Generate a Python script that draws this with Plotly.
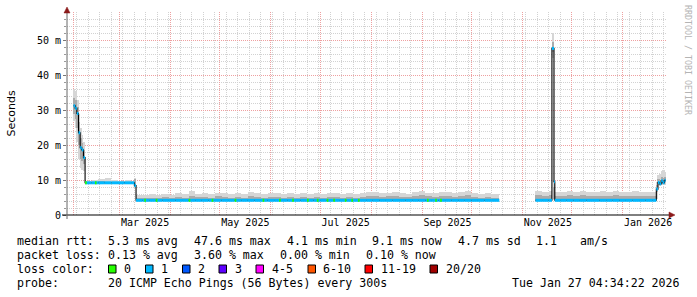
import pandas as pd
import plotly.graph_objects as go

# ---------------- data ----------------
bin_start = [
    "2025-02-01", "2025-02-02", "2025-02-03", "2025-02-04", "2025-02-05", "2025-02-06", "2025-02-07",
    "2025-02-08", "2025-02-12", "2025-02-16", "2025-02-20", "2025-02-24", "2025-02-28", "2025-03-04",
    "2025-03-08", "2025-03-10",
    "2025-03-11", "2025-03-15", "2025-03-19", "2025-03-23", "2025-03-27", "2025-03-31", "2025-04-04",
    "2025-04-08", "2025-04-12", "2025-04-16", "2025-04-20", "2025-04-24", "2025-04-28", "2025-05-02",
    "2025-05-06", "2025-05-10", "2025-05-14", "2025-05-18", "2025-05-22", "2025-05-26", "2025-05-30",
    "2025-06-03", "2025-06-07", "2025-06-11", "2025-06-15", "2025-06-19", "2025-06-23", "2025-06-27",
    "2025-07-01", "2025-07-05", "2025-07-09", "2025-07-13", "2025-07-17", "2025-07-21", "2025-07-25",
    "2025-07-29", "2025-08-02", "2025-08-06", "2025-08-10", "2025-08-14", "2025-08-18", "2025-08-22",
    "2025-08-26", "2025-08-30", "2025-09-03", "2025-09-07", "2025-09-11", "2025-09-15", "2025-09-19",
    "2025-09-23", "2025-09-27", "2025-10-01", "2025-10-05", "2025-10-09", "2025-10-13",
    "2025-10-18",
    "2025-11-09", "2025-11-13", "2025-11-17", "2025-11-19", "2025-11-20 06:00", "2025-11-20 18:00",
    "2025-11-24",
    "2025-11-28", "2025-12-02", "2025-12-06", "2025-12-10", "2025-12-14", "2025-12-18", "2025-12-22",
    "2025-12-26", "2025-12-30", "2026-01-03", "2026-01-07", "2026-01-11", "2026-01-15", "2026-01-19",
    "2026-01-21 12:00", "2026-01-22 12:00", "2026-01-23 12:00", "2026-01-24 12:00", "2026-01-25 12:00",
    "2026-01-26 12:00",
]
data_end = "2026-01-27 04:34"

median_ms = [
    31.2, 30.5, 29.0, 23.5, 19.2, 18.6, 16.4,
    9.2, 9.2, 9.2, 9.2, 9.2, 9.2, 9.2, 9.2, 8.4,
    4.2, 4.2, 4.2, 4.2, 4.2, 4.2, 4.2, 4.2, 4.2, 4.2, 4.2, 4.2, 4.2, 4.2,
    4.2, 4.2, 4.2, 4.2, 4.2, 4.2, 4.2, 4.2, 4.2, 4.2, 4.2, 4.2, 4.2, 4.2,
    4.2, 4.2, 4.2, 4.2, 4.2, 4.2, 4.2, 4.2, 4.2, 4.2, 4.2, 4.2, 4.2, 4.2,
    4.2, 4.2, 4.2, 4.2, 4.2, 4.2, 4.2, 4.2, 4.2, 4.2, 4.2, 4.2, 4.2,
    None,
    4.2, 4.2, 4.2, 47.6, 9.5, 4.2, 4.2, 4.2, 4.2, 4.2, 4.2, 4.2, 4.2, 4.2,
    4.2, 4.2, 4.2, 4.2, 4.2, 4.2, 4.2,
    7.4, 9.3, 8.9, 9.8, 9.2, 9.9,
]
smoke_lo = [
    27.0, 25.0, 21.0, 16.0, 13.5, 13.0, 12.5,
    8.9, 8.9, 8.9, 8.9, 8.9, 8.9, 8.9, 8.9, 7.8,
    3.95, 3.95, 3.95, 3.95, 3.95, 3.95, 3.95, 3.95, 3.95, 3.95, 3.95, 3.95, 3.95, 3.95,
    3.95, 3.95, 3.95, 3.95, 3.95, 3.95, 3.95, 3.95, 3.95, 3.95, 3.95, 3.95, 3.95, 3.95,
    3.95, 3.95, 3.95, 3.95, 3.95, 3.95, 3.95, 3.95, 3.95, 3.95, 3.95, 3.95, 3.95, 3.95,
    3.95, 3.95, 3.95, 3.95, 3.95, 3.95, 3.95, 3.95, 3.95, 3.95, 3.95, 3.95, 3.95,
    None,
    3.95, 3.95, 3.95, 45.0, 4.2, 3.95, 3.95, 3.95, 3.95, 3.95, 3.95, 3.95, 3.95, 3.95,
    3.95, 3.95, 3.95, 3.95, 3.95, 3.95, 3.95,
    4.5, 8.5, 8.3, 8.6, 8.5, 8.7,
]
smoke_q1 = [
    29.0, 27.5, 25.0, 20.0, 16.0, 15.5, 14.5,
    9.0, 9.0, 9.0, 9.0, 9.0, 9.0, 9.0, 9.0, 8.0,
    4.05, 4.05, 4.05, 4.05, 4.05, 4.05, 4.05, 4.05, 4.05, 4.05, 4.05, 4.05, 4.05, 4.05,
    4.05, 4.05, 4.05, 4.05, 4.05, 4.05, 4.05, 4.05, 4.05, 4.05, 4.05, 4.05, 4.05, 4.05,
    4.05, 4.05, 4.05, 4.05, 4.05, 4.05, 4.05, 4.05, 4.05, 4.05, 4.05, 4.05, 4.05, 4.05,
    4.05, 4.05, 4.05, 4.05, 4.05, 4.05, 4.05, 4.05, 4.05, 4.05, 4.05, 4.05, 4.05,
    None,
    4.05, 4.05, 4.05, 46.5, 4.5, 4.05, 4.05, 4.05, 4.05, 4.05, 4.05, 4.05, 4.05, 4.05,
    4.05, 4.05, 4.05, 4.05, 4.05, 4.05, 4.05,
    6.5, 9.0, 8.7, 9.2, 8.9, 9.3,
]
smoke_q3 = [
    33.5, 33.0, 31.0, 26.5, 22.0, 20.5, 18.5,
    9.5, 9.5, 9.6, 9.5, 9.5, 9.5, 9.5, 9.5, 10.3,
    4.8, 4.9, 5.0, 4.9, 5.1, 4.9, 5.2, 5.0, 5.4, 5.1, 5.2, 5.0, 5.3, 5.1,
    5.0, 5.2, 5.0, 5.3, 5.1, 5.0, 5.2, 5.2, 5.0, 5.1, 5.0, 5.1, 5.0, 5.2,
    5.0, 5.1, 5.2, 5.0, 5.1, 5.0, 5.2, 5.3, 5.4, 5.2, 5.5, 5.4, 5.2, 5.1,
    5.3, 5.6, 5.3, 5.1, 5.4, 5.5, 5.2, 5.4, 5.6, 5.2, 5.0, 5.1, 5.0,
    None,
    5.6, 5.5, 5.6, 49.5, 8.0, 5.5, 5.4, 5.6, 5.5, 5.7, 5.5, 5.4, 5.5, 5.4,
    5.6, 5.5, 5.4, 5.5, 5.5, 5.4, 5.4,
    8.5, 10.2, 10.0, 10.8, 10.5, 10.9,
]
smoke_hi = [
    36.0, 35.5, 33.0, 29.0, 25.0, 23.0, 21.0,
    9.8, 9.9, 10.2, 10.6, 9.9, 9.8, 9.9, 9.8, 10.6,
    5.6, 5.8, 6.0, 5.7, 6.0, 5.8, 6.2, 6.1, 6.9, 6.0, 6.3, 6.1, 6.4, 6.2,
    6.0, 6.3, 6.1, 6.5, 6.2, 6.0, 6.3, 6.4, 6.1, 6.3, 6.0, 6.2, 6.1, 6.3,
    6.0, 6.2, 6.4, 6.1, 6.3, 6.0, 6.2, 6.5, 6.6, 6.2, 6.4, 6.7, 6.3, 6.1,
    6.6, 6.8, 6.4, 6.2, 6.5, 6.7, 6.3, 6.6, 6.9, 6.2, 6.0, 6.3, 6.0,
    None,
    6.8, 6.6, 6.9, 52.0, 10.0, 6.7, 6.5, 6.8, 6.6, 6.9, 6.7, 6.5, 6.8, 6.6,
    6.9, 6.7, 6.6, 6.8, 6.7, 6.5, 6.6,
    9.5, 11.5, 11.8, 12.5, 12.9, 12.2,
]
zero_loss_days = [
    "2025-02-08", "2025-02-14", "2025-03-16", "2025-03-23", "2025-04-12", "2025-04-26",
    "2025-05-10", "2025-05-27", "2025-06-06", "2025-06-14", "2025-06-23", "2025-06-29",
    "2025-07-05", "2025-07-09", "2025-07-16", "2025-07-20", "2025-07-24", "2025-09-04",
    "2025-09-09", "2025-09-12",
]

x_range = ["2025-01-28 00:00", "2026-01-28 00:00"]
y_max_ms = 58
ytick_vals = [0, 10, 20, 30, 40, 50]
ytick_text = ["0", "10 m", "20 m", "30 m", "40 m", "50 m"]
xlabel_vals = ["2025-03-16 12:00", "2025-05-16 12:00", "2025-07-16 12:00",
               "2025-09-16 12:00", "2025-11-16 12:00", "2026-01-16 12:00"]
xlabel_text = ["Mar 2025", "May 2025", "Jul 2025", "Sep 2025", "Nov 2025", "Jan 2026"]

loss_labels = ["0", "1", "2", "3", "4-5", "6-10", "11-19", "20/20"]
loss_colors = ["#26ff00", "#00b8ff", "#0059ff", "#5e00ff", "#ff00ff", "#ff5500", "#ff0000", "#a10000"]

stats_rtt = ["median rtt:", "5.3 ms avg", "47.6 ms max", "4.1 ms min", "9.1 ms now", "4.7 ms sd", "1.1", "am/s"]
stats_loss = ["packet loss:", "0.13 % avg", "3.60 % max", "0.00 % min", "0.10 % now"]
probe_text = ["probe:", "20 ICMP Echo Pings (56 Bytes) every 300s"]
stamp_text = "Tue Jan 27 04:34:22 2026"

# ---------------- derived ----------------
starts = list(pd.to_datetime(bin_start, format="mixed"))
ends = starts[1:] + [pd.Timestamp(data_end)]
dur_ms = [(e - s).total_seconds() * 1000 for s, e in zip(starts, ends)]

valid = [i for i, m in enumerate(median_ms) if m is not None]

fig = go.Figure()

# smoke (outer and inner bands)
for lo_l, hi_l, col in [(smoke_lo, smoke_hi, "#d6d6d6"), (smoke_q1, smoke_q3, "#ababab")]:
    fig.add_trace(go.Bar(
        x=[starts[i] for i in valid],
        y=[hi_l[i] - lo_l[i] for i in valid],
        base=[lo_l[i] for i in valid],
        width=[dur_ms[i] for i in valid],
        offset=0,
        marker=dict(color=col, line=dict(width=0)),
        hoverinfo="skip",
    ))

# median black step line
fig.add_trace(go.Scatter(
    x=starts + [pd.Timestamp(data_end)],
    y=median_ms + [median_ms[-1]],
    mode="lines", line=dict(color="black", width=1.1, shape="hv"),
    connectgaps=False, hoverinfo="skip",
))

# median colored by loss (1 packet lost)
seg_x, seg_y = [], []
for i in valid:
    seg_x += [starts[i], ends[i], None]
    seg_y += [median_ms[i], median_ms[i], None]
fig.add_trace(go.Scatter(x=seg_x, y=seg_y, mode="lines",
                         line=dict(color=loss_colors[1], width=3), hoverinfo="skip"))

# zero-loss marks
gx, gy = [], []
for d in pd.to_datetime(zero_loss_days):
    for i in valid:
        if starts[i] <= d < ends[i]:
            gx += [d, d + pd.Timedelta(days=1), None]
            gy += [median_ms[i], median_ms[i], None]
            break
fig.add_trace(go.Scatter(x=gx, y=gy, mode="lines",
                         line=dict(color=loss_colors[0], width=3), hoverinfo="skip"))

# dummy trace for label axis
fig.add_trace(go.Scatter(x=[x_range[0]], y=[None], xaxis="x2", mode="markers",
                         hoverinfo="skip", showlegend=False))

# ---------------- layout ----------------
W, H = 697, 297
L, R, T, B = 67, 30, 12, 82
PW, PH = W - L - R, H - T - B


def px(xp):
    return (xp - L) / PW


def py(yp):
    return (H - B - yp) / PH


MONO = "DejaVu Sans Mono"
grid_red = "#eea0a0"
grid_grey = "#d2d2d2"

fig.update_layout(
    width=W, height=H, autosize=False,
    margin=dict(l=L, r=R, t=T, b=B, pad=0),
    paper_bgcolor="white", plot_bgcolor="white",
    showlegend=False, barmode="overlay", bargap=0,
    xaxis=dict(
        type="date", range=x_range, showticklabels=False, ticks="",
        showgrid=True, gridcolor=grid_red, griddash="1px,1px", gridwidth=1,
        dtick="M1", tick0="2025-02-01", zeroline=False, showline=False,
        minor=dict(dtick=7 * 86400000, tick0="2025-02-03", showgrid=True,
                   gridcolor=grid_grey, griddash="1px,1px", gridwidth=1),
    ),
    xaxis2=dict(
        type="date", range=x_range, overlaying="x", anchor="y", side="bottom",
        tickmode="array", tickvals=xlabel_vals, ticktext=xlabel_text,
        showgrid=False, ticks="", zeroline=False, showline=False,
        tickfont=dict(family=MONO, size=10, color="#000"),
    ),
    yaxis=dict(
        range=[0, y_max_ms], tickmode="array", tickvals=ytick_vals, ticktext=ytick_text,
        showgrid=True, gridcolor=grid_red, griddash="1px,1px", gridwidth=1,
        zeroline=False, showline=False, ticks="outside", ticklen=3, tickcolor="#777",
        tickfont=dict(family=MONO, size=10, color="#000"),
        minor=dict(tickmode="linear", tick0=0, dtick=2, showgrid=True, gridcolor=grid_grey,
                   griddash="1px,1px", gridwidth=1, ticks="outside", ticklen=2, tickcolor="#999"),
    ),
)

shapes = []
# axis lines
shapes.append(dict(type="line", xref="paper", yref="paper", x0=px(62), x1=px(669),
                   y0=0, y1=0, line=dict(color="black", width=1)))
shapes.append(dict(type="line", xref="paper", yref="paper", x0=0, x1=0,
                   y0=py(219), y1=py(13), line=dict(color="#666", width=1)))
# arrows
shapes.append(dict(type="path", xref="paper", yref="paper",
                   path=f"M {px(64)} {py(13)} L {px(70)} {py(13)} L {px(67)} {py(7)} Z",
                   fillcolor="#8b1a1a", line=dict(color="#8b1a1a", width=0.5)))
shapes.append(dict(type="path", xref="paper", yref="paper",
                   path=f"M {px(669)} {py(212)} L {px(669)} {py(218)} L {px(675)} {py(215)} Z",
                   fillcolor="#8b1a1a", line=dict(color="#8b1a1a", width=0.5)))

annotations = []


def text_at(txt, xp, yp, size=11.6, anchor="left", color="#000", family=MONO, angle=0):
    annotations.append(dict(text=txt, xref="paper", yref="paper", x=px(xp), y=py(yp),
                            xanchor=anchor, yanchor="middle", showarrow=False, borderpad=0,
                            textangle=angle, font=dict(family=family, size=size, color=color)))


row_y = [241, 255, 269, 283]
rtt_x = [16, 107, 193, 286, 371, 457, 535, 579]
for t, xp in zip(stats_rtt, rtt_x):
    text_at(t, xp, row_y[0])
loss_x = [16, 107, 193, 279, 365]
for t, xp in zip(stats_loss, loss_x):
    text_at(t, xp, row_y[1])
text_at("loss color:", 16, row_y[2])
box_x = [108.5, 145.5, 182.5, 219, 256, 308, 365, 430]
lab_x = [123, 160, 197, 234, 271, 322, 380, 445]
for lab, col, bx, lx in zip(loss_labels, loss_colors, box_x, lab_x):
    shapes.append(dict(type="rect", xref="paper", yref="paper",
                       x0=px(bx), x1=px(bx + 7.5), y0=py(row_y[2] + 4), y1=py(row_y[2] - 4),
                       fillcolor=col, line=dict(color="black", width=1)))
    text_at(lab, lx, row_y[2])
text_at(probe_text[0], 16, row_y[3])
text_at(probe_text[1], 107, row_y[3])
text_at(stamp_text, 681, row_y[3], anchor="right")

# y title
text_at("Seconds", 11, 113.5, size=11, anchor="center", family="DejaVu Sans", angle=-90)
# watermark
text_at("RRDTOOL / TOBI OETIKER", 688, 60, size=8.3, anchor="center", color="#b4b4b4", angle=90)

fig.update_layout(shapes=shapes, annotations=annotations)

fig.write_html("out.html")
